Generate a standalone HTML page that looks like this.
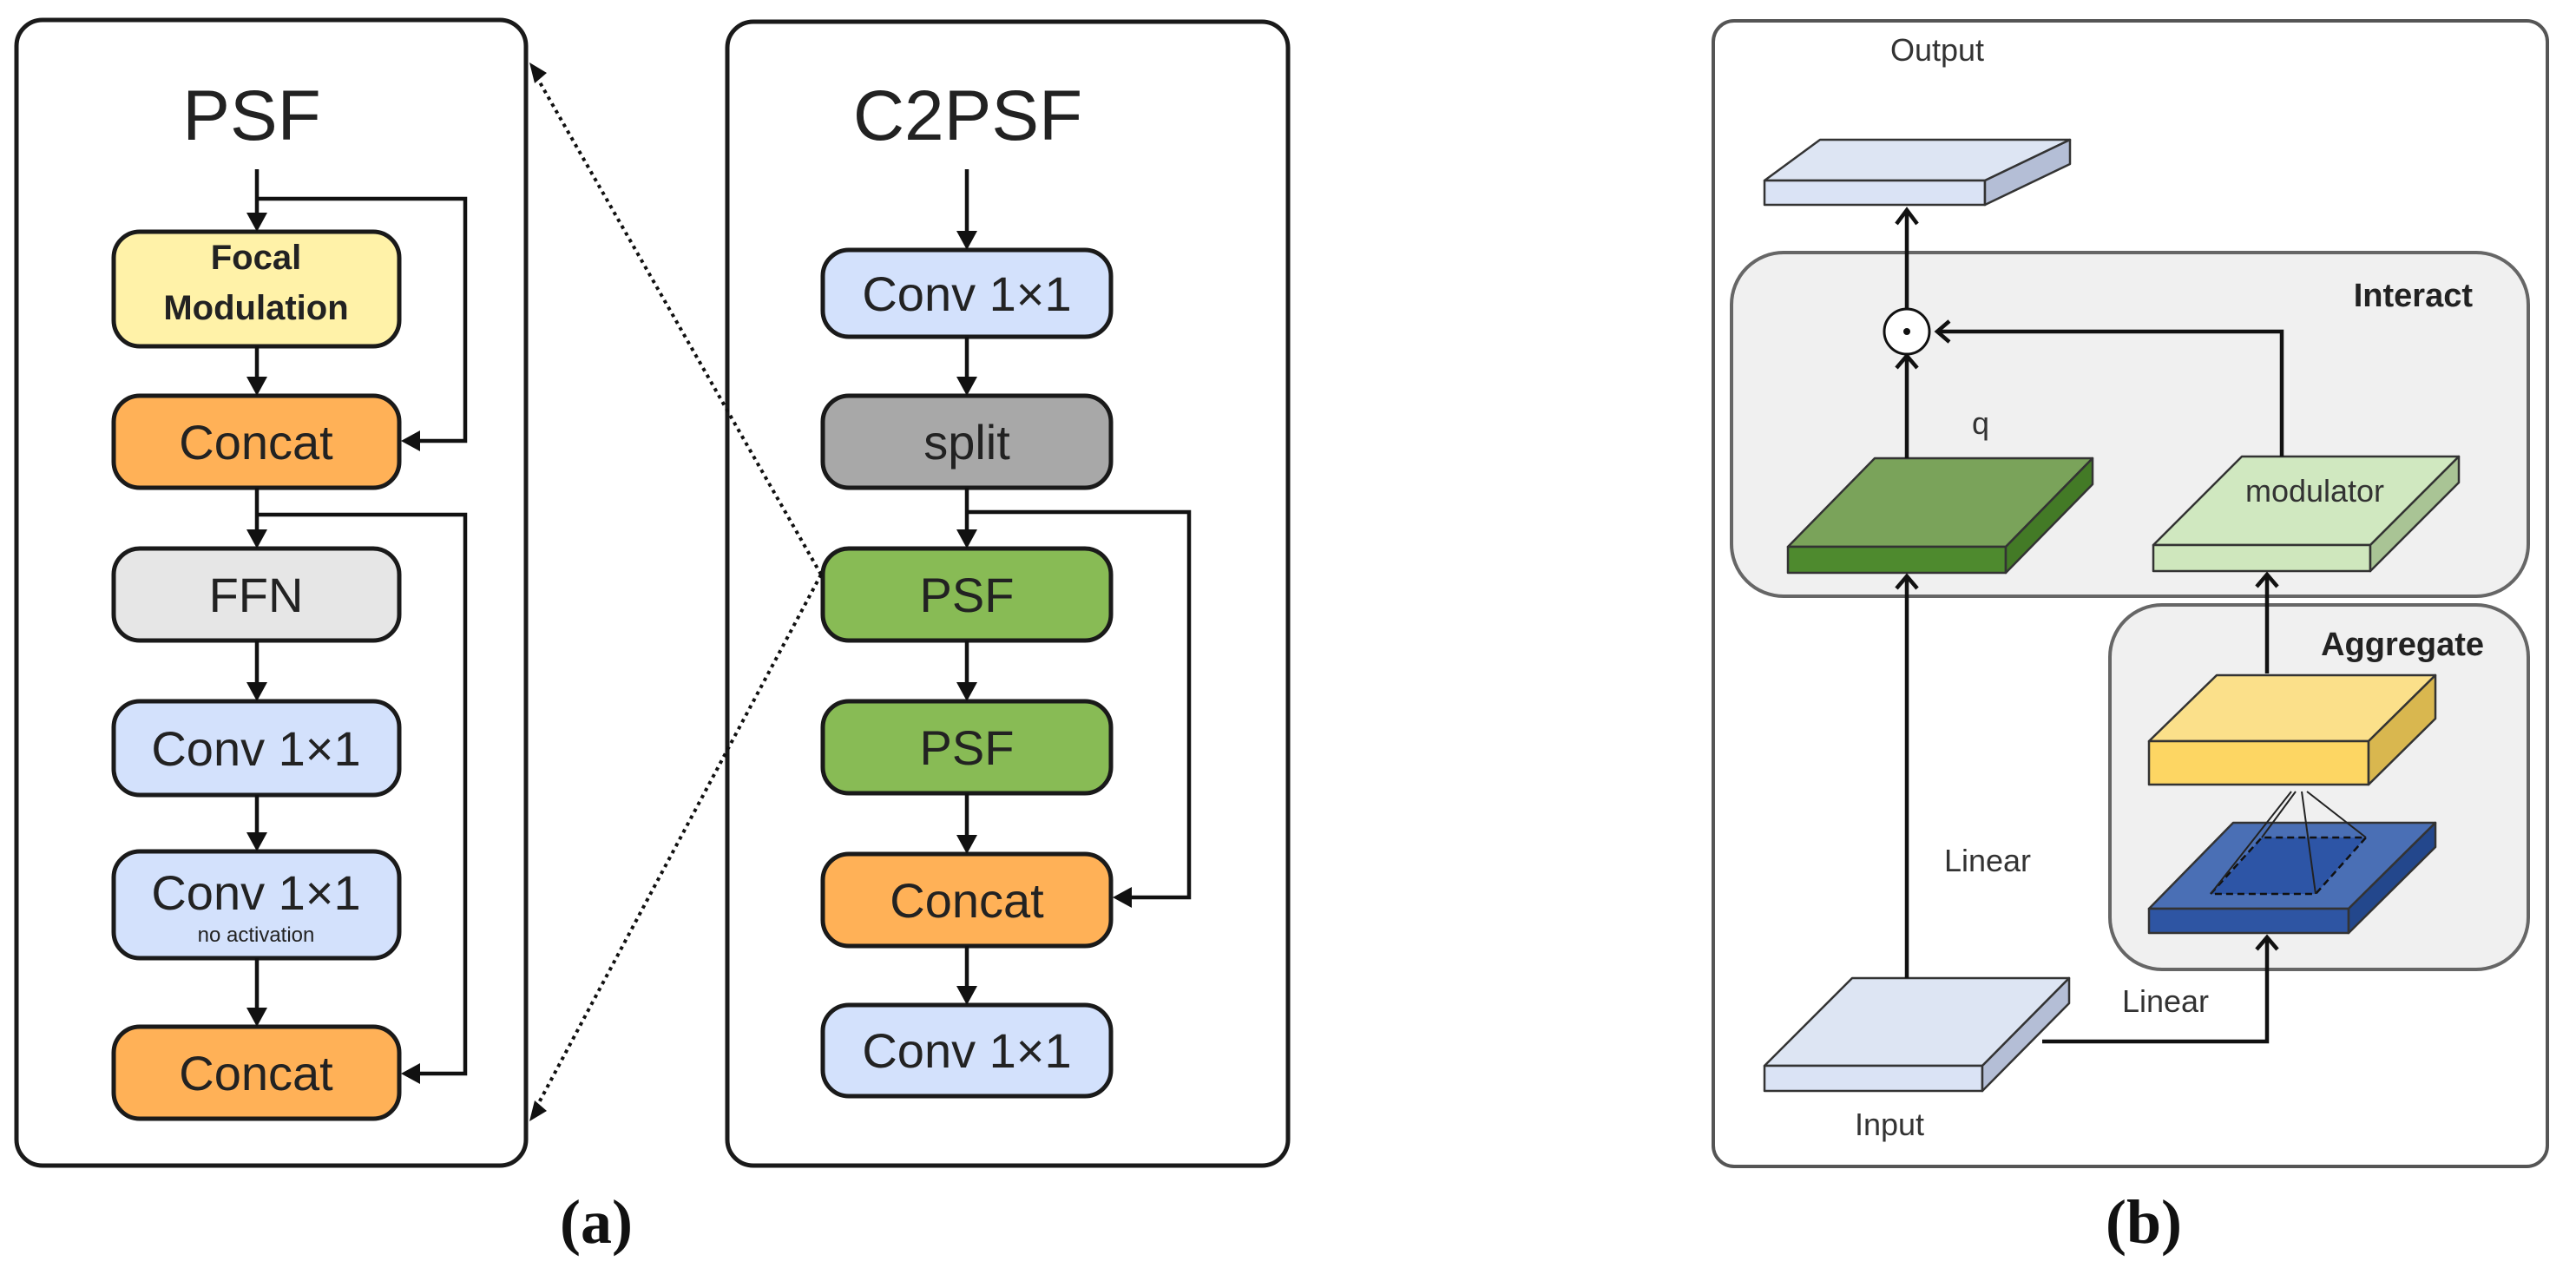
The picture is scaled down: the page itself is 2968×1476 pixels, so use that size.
<!DOCTYPE html>
<html><head><meta charset="utf-8"><style>
html,body{margin:0;padding:0;background:#fff;width:2968px;height:1476px;overflow:hidden}
</style></head><body>
<svg width="2968" height="1476" viewBox="0 0 2968 1476" xmlns="http://www.w3.org/2000/svg">
<g font-family="Liberation Sans, sans-serif" fill="#222">
<!-- PSF outer -->
<rect x="19" y="23" width="587" height="1320" rx="30" fill="#fff" stroke="#1a1a1a" stroke-width="5"/>
<text x="290" y="161" font-size="82" text-anchor="middle" fill="#222">PSF</text>
<!-- C2PSF outer -->
<rect x="838" y="25" width="646" height="1318" rx="30" fill="#fff" stroke="#1a1a1a" stroke-width="5"/>
<text x="1115" y="161" font-size="82" text-anchor="middle" fill="#222">C2PSF</text>

<g stroke="#1a1a1a" stroke-width="5">
<rect x="131" y="267" width="329" height="132" rx="30" fill="#fff2a8"/>
<rect x="131" y="456" width="329" height="106" rx="30" fill="#ffb157"/>
<rect x="131" y="632" width="329" height="106" rx="30" fill="#e6e6e6"/>
<rect x="131" y="808" width="329" height="108" rx="30" fill="#d3e1fc"/>
<rect x="131" y="981" width="329" height="123" rx="30" fill="#d3e1fc"/>
<rect x="131" y="1183" width="329" height="106" rx="30" fill="#ffb157"/>

<rect x="948" y="288" width="332" height="100" rx="30" fill="#d3e1fc"/>
<rect x="948" y="456" width="332" height="106" rx="30" fill="#a8a8a8"/>
<rect x="948" y="632" width="332" height="106" rx="30" fill="#88bb55"/>
<rect x="948" y="808" width="332" height="106" rx="30" fill="#88bb55"/>
<rect x="948" y="984" width="332" height="106" rx="30" fill="#ffb157"/>
<rect x="948" y="1158" width="332" height="105" rx="30" fill="#d3e1fc"/>
</g>
<g font-size="56" text-anchor="middle">
<text x="295" y="310" font-size="40" font-weight="bold">Focal</text>
<text x="295" y="368" font-size="40" font-weight="bold">Modulation</text>
<text x="295" y="529">Concat</text>
<text x="295" y="705">FFN</text>
<text x="295" y="882">Conv 1×1</text>
<text x="295" y="1048">Conv 1×1</text>
<text x="295" y="1085" font-size="24">no activation</text>
<text x="295" y="1256">Concat</text>
<text x="1114" y="358">Conv 1×1</text>
<text x="1114" y="529">split</text>
<text x="1114" y="705">PSF</text>
<text x="1114" y="881">PSF</text>
<text x="1114" y="1057">Concat</text>
<text x="1114" y="1230">Conv 1×1</text>
</g>
<!-- connectors (a) -->
<g stroke="#111" stroke-width="4.5" fill="none">
<path d="M296 195V245"/><path d="M296 229H536V508H482"/>
<path d="M296 399V434"/>
<path d="M296 562V610"/><path d="M296 593H536V1237H482"/>
<path d="M296 738V786"/><path d="M296 916V959"/><path d="M296 1104V1161"/>
<path d="M1114 195V266"/><path d="M1114 388V434"/><path d="M1114 562V610"/>
<path d="M1114 590H1370V1034H1302"/>
<path d="M1114 738V786"/><path d="M1114 914V962"/><path d="M1114 1090V1136"/>
</g>
<g fill="#111">
<path d="M284 245L308 245L296 267Z"/><path d="M284 434L308 434L296 456Z"/>
<path d="M284 610L308 610L296 632Z"/><path d="M284 786L308 786L296 808Z"/>
<path d="M284 959L308 959L296 981Z"/><path d="M284 1161L308 1161L296 1183Z"/>
<path d="M484 496L484 520L462 508Z"/><path d="M484 1225L484 1249L462 1237Z"/>
<path d="M1102 266L1126 266L1114 288Z"/><path d="M1102 434L1126 434L1114 456Z"/>
<path d="M1102 610L1126 610L1114 632Z"/><path d="M1102 786L1126 786L1114 808Z"/>
<path d="M1102 962L1126 962L1114 984Z"/><path d="M1102 1136L1126 1136L1114 1158Z"/>
<path d="M1304 1022L1304 1046L1282 1034Z"/>
</g>
<!-- dotted -->
<g stroke="#111" stroke-width="4" stroke-dasharray="4 5" fill="none">
<path d="M946 662L618 88"/><path d="M946 662L618 1276"/>
</g>
<path d="M610 72L630 84L616 96Z" fill="#111"/>
<path d="M610 1292L630 1280L616 1268Z" fill="#111"/>
<text x="687" y="1432" font-family="Liberation Serif, serif" font-weight="bold" font-size="72" text-anchor="middle" fill="#111">(a)</text>

<!-- (b) -->
<rect x="1974" y="24" width="961" height="1320" rx="24" fill="#fff" stroke="#555" stroke-width="4"/>
<rect x="1995" y="291" width="918" height="396" rx="60" fill="#f0f0f0" stroke="#666" stroke-width="4"/>
<rect x="2431" y="697" width="482" height="420" rx="60" fill="#f0f0f0" stroke="#666" stroke-width="4"/>
<text x="2849" y="353" font-size="38" font-weight="bold" text-anchor="end" fill="#222">Interact</text>
<text x="2862" y="755" font-size="38" font-weight="bold" text-anchor="end" fill="#222">Aggregate</text>
<g font-size="36" fill="#333" text-anchor="middle">
<text x="2232" y="70">Output</text>
<text x="2282" y="500">q</text>
<text x="2290" y="1004">Linear</text>
<text x="2495" y="1166">Linear</text>
<text x="2177" y="1308">Input</text>
</g>
<g stroke="#333" stroke-width="2.5" stroke-linejoin="round">
<!-- output slab -->
<path d="M2033 208L2097 161H2385L2287 208Z" fill="#dde5f3"/>
<path d="M2033 208H2287V236H2033Z" fill="#dae3f5"/>
<path d="M2287 208L2385 161V189L2287 236Z" fill="#b4bed6"/>
<!-- q slab -->
<path d="M2060 630L2160 528H2411L2311 630Z" fill="#7aa35a"/>
<path d="M2060 630H2311V660H2060Z" fill="#4e8a2e"/>
<path d="M2311 630L2411 528V558L2311 660Z" fill="#437a26"/>
<!-- modulator slab -->
<path d="M2481 628L2583 526H2833L2731 628Z" fill="#d0e8c0"/>
<path d="M2481 628H2731V658H2481Z" fill="#cfe7bd"/>
<path d="M2731 628L2833 526V556L2731 658Z" fill="#a9c495"/>
<!-- yellow -->
<path d="M2476 854L2554 778H2806L2729 854Z" fill="#fbe08a"/>
<path d="M2476 854H2729V904H2476Z" fill="#fdd663"/>
<path d="M2729 854L2806 778V828L2729 904Z" fill="#d9b74f"/>
<!-- blue -->
<path d="M2476 1047L2573 948H2806L2706 1047Z" fill="#4a6fb5"/>
<path d="M2476 1047H2706V1075H2476Z" fill="#2e55a3"/>
<path d="M2706 1047L2806 948V976L2706 1075Z" fill="#23478c"/>
<!-- input -->
<path d="M2033 1228L2134 1127H2384L2284 1228Z" fill="#dde5f3"/>
<path d="M2033 1228H2284V1257H2033Z" fill="#dae3f5"/>
<path d="M2284 1228L2384 1127V1156L2284 1257Z" fill="#b4bed6"/>
</g>
<path d="M2547 1030L2606 965H2726L2668 1030Z" fill="#2d55a6" stroke="#111" stroke-width="2.5" stroke-dasharray="8 5"/>
<g stroke="#222" stroke-width="2" fill="none">
<path d="M2547 1030L2640 912M2606 965L2645 912M2726 965L2658 912M2668 1030L2652 912"/>
</g>
<text x="2667" y="578" font-size="36" text-anchor="middle" fill="#333">modulator</text>
<!-- (b) connectors -->
<g stroke="#111" stroke-width="4.5" fill="none">
<path d="M2197 355V242"/>
<path d="M2197 528V410"/>
<path d="M2629 526V382H2232"/>
<path d="M2197 1127V664"/>
<path d="M2612 776V662"/>
<path d="M2353 1200H2612V1080"/>
<path d="M2185 258L2197 242L2209 258"/>
<path d="M2185 424L2197 410L2209 424"/>
<path d="M2246 370L2232 382L2246 394"/>
<path d="M2185 678L2197 664L2209 678"/>
<path d="M2600 676L2612 662L2624 676"/>
<path d="M2600 1094L2612 1080L2624 1094"/>
</g>
<circle cx="2197" cy="382" r="26" fill="#fff" stroke="#111" stroke-width="3"/>
<circle cx="2197" cy="382" r="4" fill="#111"/>
<text x="2470" y="1432" font-family="Liberation Serif, serif" font-weight="bold" font-size="72" text-anchor="middle" fill="#111">(b)</text>
</g>
</svg>
</body></html>
